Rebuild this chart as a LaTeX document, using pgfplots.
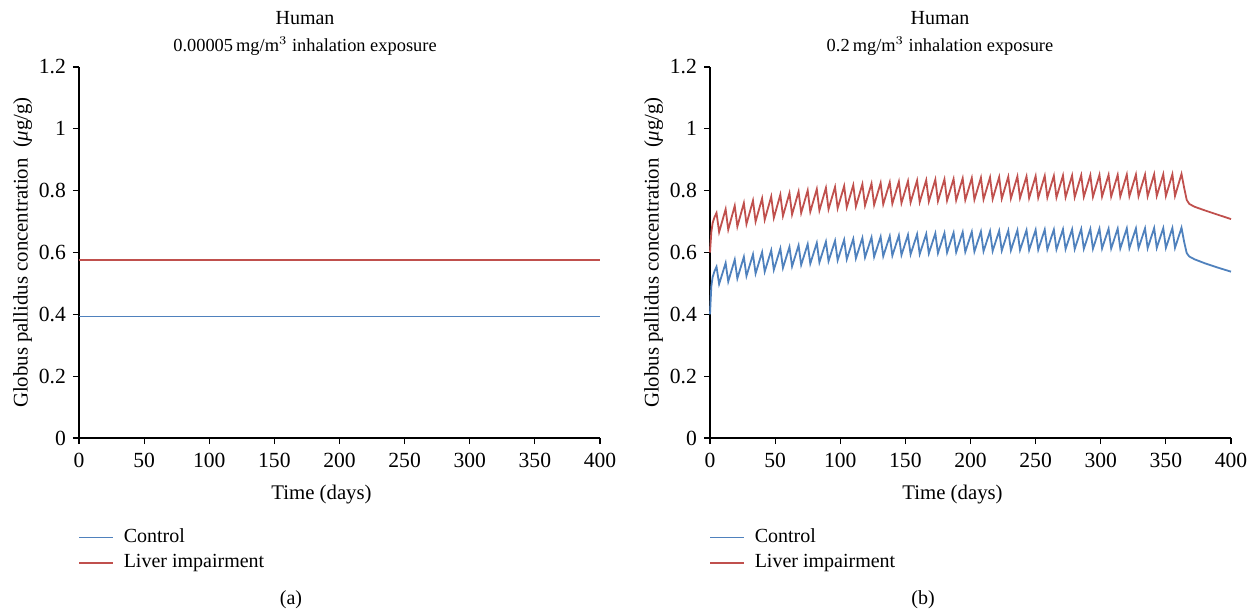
\documentclass[border=0pt]{standalone}
\usepackage{pgfplots}
\pgfplotsset{compat=1.18}
\usepackage{fontspec}
\setmainfont{Liberation Serif}
\definecolor{ctrl}{RGB}{79,129,189}
\definecolor{liver}{RGB}{192,80,77}
\pgfplotsset{
  panel/.style={
    scale only axis, width=260.5pt, height=185.5pt,
    xmin=0, xmax=400, ymin=0, ymax=1.2,
    axis x line=bottom, axis y line=left,
    axis line style={-, line width=0.7pt},
    tick align=outside, major tick length=3pt,
    tick style={black, line width=0.6pt},
    xtick={0,50,...,400}, ytick={0,0.2,...,1.2},
    yticklabels={0,0.2,0.4,0.6,0.8,1,1.2},
    /pgf/number format/assume math mode=true,
    ticklabel style={font=\fontsize{10.8}{12}\selectfont},
    xticklabel style={yshift=-1pt},
    label style={font=\fontsize{10.4}{12}\selectfont},
    xlabel={Time (days)},
    xlabel style={yshift=-2pt, xshift=-9pt},
    ylabel={Globus pallidus concentration \ (\textit{μ}g/g)},
    ylabel style={yshift=-3.5pt},
    legend style={draw=none, at={(-0.002,-0.233)}, anchor=north west, font=\fontsize{10}{12}\selectfont, row sep=0.5pt, inner sep=0pt, nodes={inner xsep=5pt}},
    legend cell align=left,
    legend image code/.code={\draw[#1, line width=0.7pt] (0pt,0pt) -- (17pt,0pt);},
    clip=false,
  }
}
\begin{document}
\begin{tikzpicture}
\path[use as bounding box] (-39.5pt,-86pt) rectangle (584.5pt,219pt);
\begin{axis}[panel, name=A]
\addplot[ctrl, line width=0.6pt] coordinates {(0,0.392) (400,0.392)};
\addlegendentry{Control}
\addplot[liver, line width=0.6pt] coordinates {(0,0.576) (400,0.576)};
\addlegendentry{Liver impairment}
\end{axis}
\node[font=\fontsize{10}{12}\selectfont] at (113pt,210pt) {Human};
\node[font=\fontsize{9.2}{12}\selectfont] at (113pt,196pt) {0.00005\,mg/m$^{3}$ inhalation exposure};
\node[font=\fontsize{10}{12}\selectfont] at (106pt,-81pt) {(a)};
\begin{axis}[panel, name=B, at={(315.5pt,0pt)}]
\addplot[ctrl, line width=0.9pt] coordinates {
(0,0.400) (1,0.490) (2,0.520) (3.5,0.540) (5,0.554) (7,0.498)
(12,0.566) (14,0.506) (19,0.577) (21,0.516) (26,0.586) (28,0.524)
(33,0.594) (35,0.532) (40,0.601) (42,0.538) (47,0.607) (49,0.544)
(54,0.613) (56,0.550) (61,0.618) (63,0.555) (68,0.623) (70,0.560)
(75,0.627) (77,0.564) (82,0.631) (84,0.568) (89,0.635) (91,0.572)
(96,0.638) (98,0.575) (103,0.641) (105,0.578) (110,0.644) (112,0.581)
(117,0.647) (119,0.584) (124,0.649) (126,0.586) (131,0.651) (133,0.588)
(138,0.653) (140,0.590) (145,0.655) (147,0.592) (152,0.657) (154,0.594)
(159,0.659) (161,0.595) (166,0.660) (168,0.597) (173,0.662) (175,0.598)
(180,0.663) (182,0.600) (187,0.664) (189,0.601) (194,0.666) (196,0.602)
(201,0.667) (203,0.603) (208,0.668) (210,0.604) (215,0.669) (217,0.605)
(222,0.670) (224,0.606) (229,0.671) (231,0.607) (236,0.672) (238,0.608)
(243,0.672) (245,0.608) (250,0.673) (252,0.609) (257,0.674) (259,0.610)
(264,0.674) (266,0.610) (271,0.675) (273,0.611) (278,0.675) (280,0.611)
(285,0.676) (287,0.612) (292,0.676) (294,0.612) (299,0.677) (301,0.613)
(306,0.677) (308,0.613) (313,0.677) (315,0.613) (320,0.678) (322,0.614)
(327,0.678) (329,0.614) (334,0.678) (336,0.614) (341,0.679) (343,0.615)
(348,0.679) (350,0.615) (355,0.679) (357,0.615) (362,0.680)
(364,0.635) (366,0.598) (368,0.587) (372,0.578) (380,0.565) (390,0.551) (400,0.538)};
\addlegendentry{Control}
\addplot[liver, line width=0.9pt] coordinates {
(0,0.600) (1,0.665) (2,0.695) (3.5,0.715) (5,0.728) (7,0.666)
(12,0.740) (14,0.674) (19,0.751) (21,0.684) (26,0.760) (28,0.692)
(33,0.768) (35,0.700) (40,0.775) (42,0.706) (47,0.781) (49,0.712)
(54,0.787) (56,0.718) (61,0.792) (63,0.723) (68,0.797) (70,0.728)
(75,0.801) (77,0.732) (82,0.805) (84,0.736) (89,0.809) (91,0.740)
(96,0.812) (98,0.743) (103,0.815) (105,0.746) (110,0.818) (112,0.749)
(117,0.821) (119,0.752) (124,0.823) (126,0.754) (131,0.825) (133,0.756)
(138,0.827) (140,0.758) (145,0.829) (147,0.760) (152,0.831) (154,0.762)
(159,0.833) (161,0.763) (166,0.834) (168,0.765) (173,0.836) (175,0.766)
(180,0.837) (182,0.768) (187,0.838) (189,0.769) (194,0.840) (196,0.770)
(201,0.841) (203,0.771) (208,0.842) (210,0.772) (215,0.843) (217,0.773)
(222,0.844) (224,0.774) (229,0.845) (231,0.775) (236,0.846) (238,0.776)
(243,0.846) (245,0.776) (250,0.847) (252,0.777) (257,0.848) (259,0.778)
(264,0.848) (266,0.778) (271,0.849) (273,0.779) (278,0.849) (280,0.779)
(285,0.850) (287,0.780) (292,0.850) (294,0.780) (299,0.851) (301,0.781)
(306,0.851) (308,0.781) (313,0.851) (315,0.781) (320,0.852) (322,0.782)
(327,0.852) (329,0.782) (334,0.852) (336,0.782) (341,0.853) (343,0.783)
(348,0.853) (350,0.783) (355,0.853) (357,0.783) (362,0.854)
(364,0.810) (366,0.770) (368,0.757) (372,0.748) (380,0.736) (390,0.722) (400,0.708)};
\addlegendentry{Liver impairment}
\end{axis}
\node[font=\fontsize{10}{12}\selectfont] at (430.5pt,210pt) {Human};
\node[font=\fontsize{9.2}{12}\selectfont] at (430.5pt,196pt) {0.2\,mg/m$^{3}$ inhalation exposure};
\node[font=\fontsize{10}{12}\selectfont] at (422pt,-81pt) {(b)};
\end{tikzpicture}
\end{document}
